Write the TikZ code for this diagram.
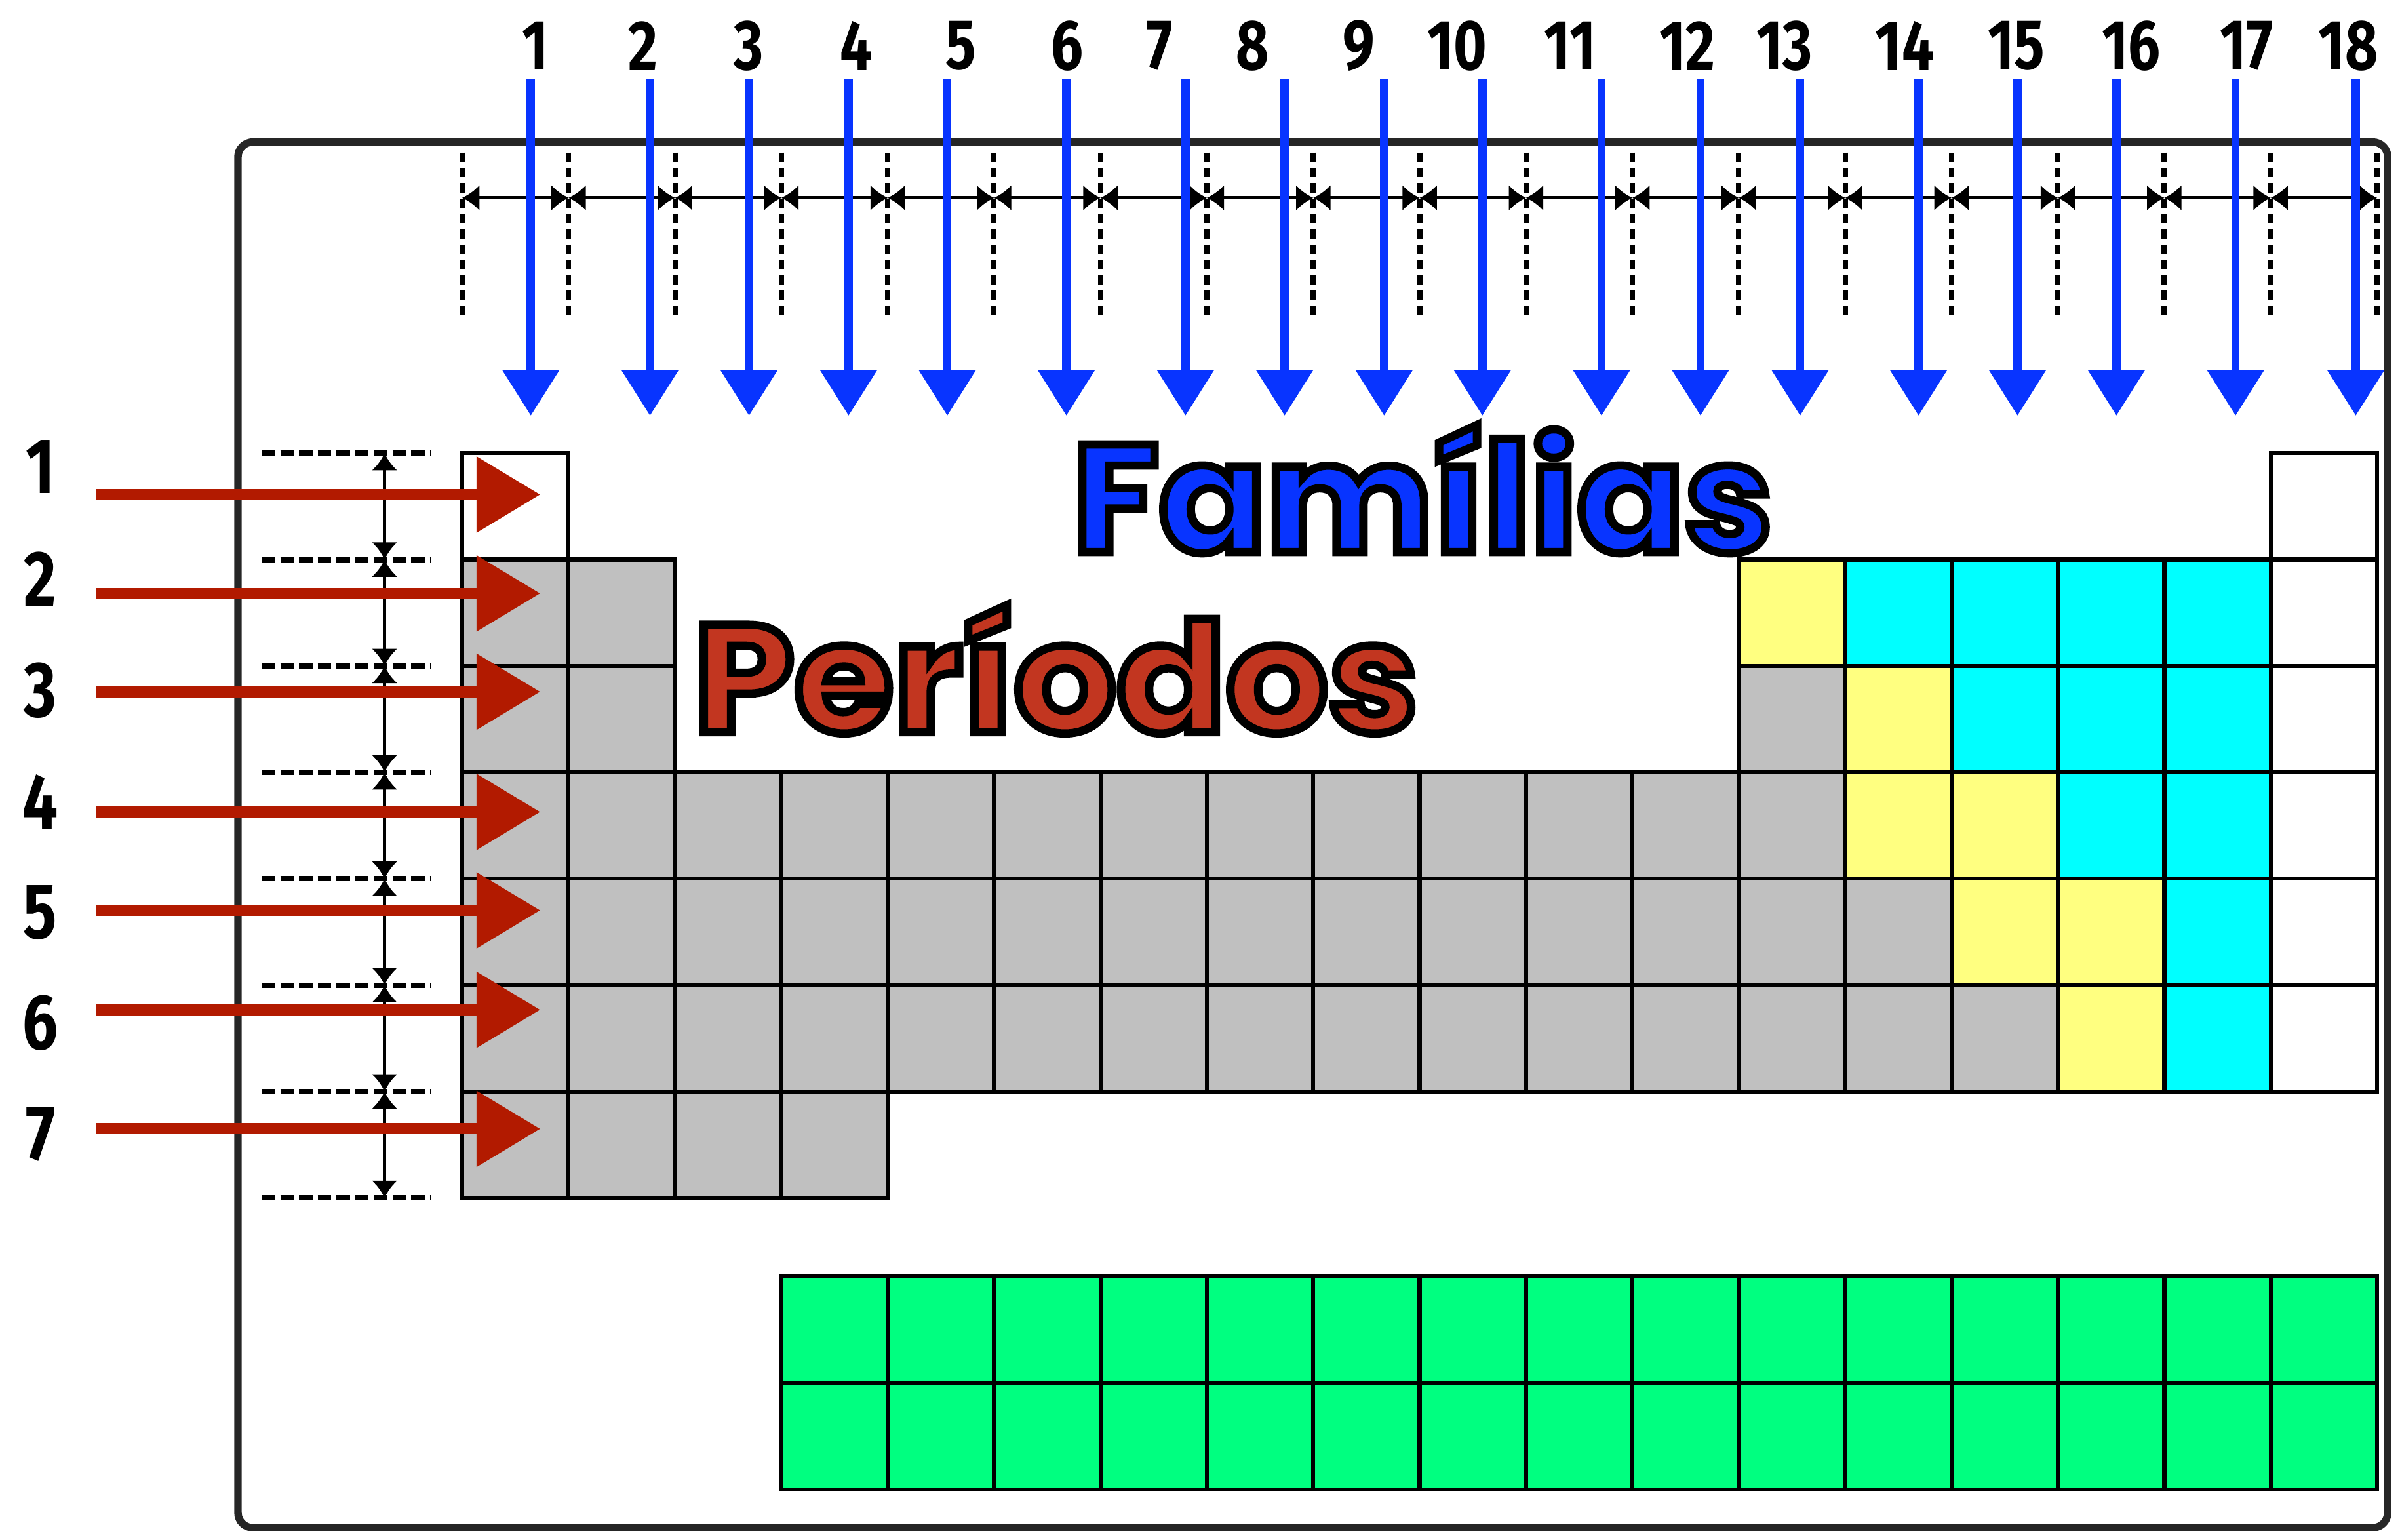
\documentclass[tikz,border=0pt]{standalone}
\usepackage{graphicx}
\usepackage{fontspec}
\usepackage{tikz}
\usetikzlibrary{arrows.meta}
\usetikzlibrary{calc}
\usetikzlibrary{positioning}

\newfontfamily\numfont{Fira Sans}[FakeStretch=0.8]
\newfontfamily\titlefont{Poppins}

\definecolor{famblue}{RGB}{8,52,255}
\definecolor{perred}{RGB}{178,26,0}
\definecolor{pertext}{RGB}{194,54,32}
\definecolor{cellgray}{RGB}{192,192,192}
\definecolor{cellyellow}{RGB}{255,255,128}
\definecolor{cellcyan}{RGB}{0,255,255}
\definecolor{cellgreen}{RGB}{0,255,128}

\tikzstyle{cell} = [draw, line width=1.1pt, minimum size=1cm, inner sep=0pt, fill=white]
\tikzstyle{coldash} = [line width=1.4pt, dash pattern=on 2.5pt off 1.6pt]
\tikzstyle{rowdash} = [line width=1.4pt, dash pattern=on 3.6pt off 1.4pt]
\tikzstyle{dimline} = [line width=0.9pt, {Latex[length=4.6pt,width=7pt]}-{Latex[length=4.6pt,width=7pt]}]
\tikzstyle{famarrow} = [famblue, line width=2.2pt, -{Triangle[length=0.43cm,width=0.52cm]}]
\tikzstyle{perarrow} = [perred, line width=3pt, -{Triangle[length=0.6cm,width=0.69cm]}]
\tikzstyle{colnum} = [inner sep=0pt, font=\numfont\bfseries\fontsize{19}{19}\selectfont]
\tikzstyle{rownum} = [inner sep=0pt, font=\numfont\bfseries\fontsize{21}{21}\selectfont]
\tikzstyle{title} = [anchor=base west, inner sep=0pt, font=\titlefont\bfseries\fontsize{41}{41}\selectfont]

% coloured text with a dark edge round it
\newcommand{\edgetext}[3]{\scalebox{#1}[1]{\textcolor{#2}{\special{pdf:literal direct 2 Tr 2.2 w 0 0 0 RG}#3\special{pdf:literal direct 0 Tr}}}}

\begin{document}
\begin{tikzpicture}[>=Stealth]
    \useasboundingbox (-4.345,-10.21) rectangle (18.216,4.26);

    % We start with the frame round the table
    \draw [line width=2pt, black!85, rounded corners=4pt] (-2.108,-10.10) rectangle (18.10,2.925);

    % column widths
    \foreach \c in {0,...,18}
        \draw [coldash] (\c,2.826) -- (\c,1.258);
    \foreach \c in {0,...,17}
        \draw [dimline] (\c,2.40) -- (\c+1,2.40);

    % row heights
    \foreach \r in {0,...,7}
        \draw [rowdash] (-1.885,-\r) -- (-0.295,-\r);
    \foreach \r in {0,...,6}
        \draw [dimline] (-0.73,-\r) -- (-0.73,-\r-1);

    % the cells of the table
    \foreach \r/\last in {2/2,3/2,4/13,5/14,6/15,7/4}
        \foreach \c in {1,...,\last}
            \node [cell, fill=cellgray] (c\r-\c) at (\c-0.5,-\r+0.5) {};
    \node [cell, fill=cellgray] (c3-13) at (12.5,-2.5) {};
    \foreach \r/\c in {1/1,1/18,2/18,3/18,4/18,5/18,6/18}
        \node [cell] (c\r-\c) at (\c-0.5,-\r+0.5) {};
    \foreach \r/\c in {2/13,3/14,4/14,4/15,5/15,5/16,6/16}
        \node [cell, fill=cellyellow] (c\r-\c) at (\c-0.5,-\r+0.5) {};
    \foreach \r/\c in {2/14,2/15,2/16,2/17,3/15,3/16,3/17,4/16,4/17,5/17,6/17}
        \node [cell, fill=cellcyan] (c\r-\c) at (\c-0.5,-\r+0.5) {};
    % lanthanides and actinides
    \foreach \r in {1,2}
        \foreach \c in {4,...,18}
            \node [cell, fill=cellgreen] (f\r-\c) at (\c-0.5,-7.24-\r) {};

    % titles
    \node [title] (familias) at (5.73,-0.93) {\edgetext{1.03}{famblue}{Famílias}};
    \node [title] (periodos) at (2.17,-2.623) {\edgetext{1.05}{pertext}{Períodos}};

    % families: number and arrow
    \foreach \n/\lx/\ax in {1/0.688/0.645, 2/1.698/1.765, 3/2.692/2.696, 4/3.702/3.632,
        5/4.685/4.560, 6/5.686/5.679, 7/6.556/6.799, 8/7.429/7.731, 9/8.430/8.666,
        10/9.354/9.590, 11/10.416/10.71, 12/11.515/11.64, 13/12.43/12.577,
        14/13.56/13.69, 15/14.61/14.62, 16/15.69/15.55, 17/16.77/16.67, 18/17.73/17.80}
    {
        \node [colnum] (fam\n) at (\lx,3.83) {\n};
        \coordinate (fs\n) at (\ax,3.52);
        \coordinate (fe\n) at (\ax,0.353);
        \draw [famarrow] (fs\n) -- (fe\n);
    }

    % periods: number and arrow
    \foreach \r/\ly/\ay in {1/-0.13/-0.389, 2/-1.18/-1.318, 3/-2.23/-2.242, 4/-3.275/-3.372,
        5/-4.317/-4.297, 6/-5.353/-5.232, 7/-6.403/-6.351}
    {
        \node [rownum] (per\r) at (-3.966,\ly) {\r};
        \coordinate (ps\r) at (-3.44,\ay);
        \coordinate (pe\r) at (0.734,\ay);
        \draw [perarrow] (ps\r) -- (pe\r);
    }
\end{tikzpicture}
\end{document}
